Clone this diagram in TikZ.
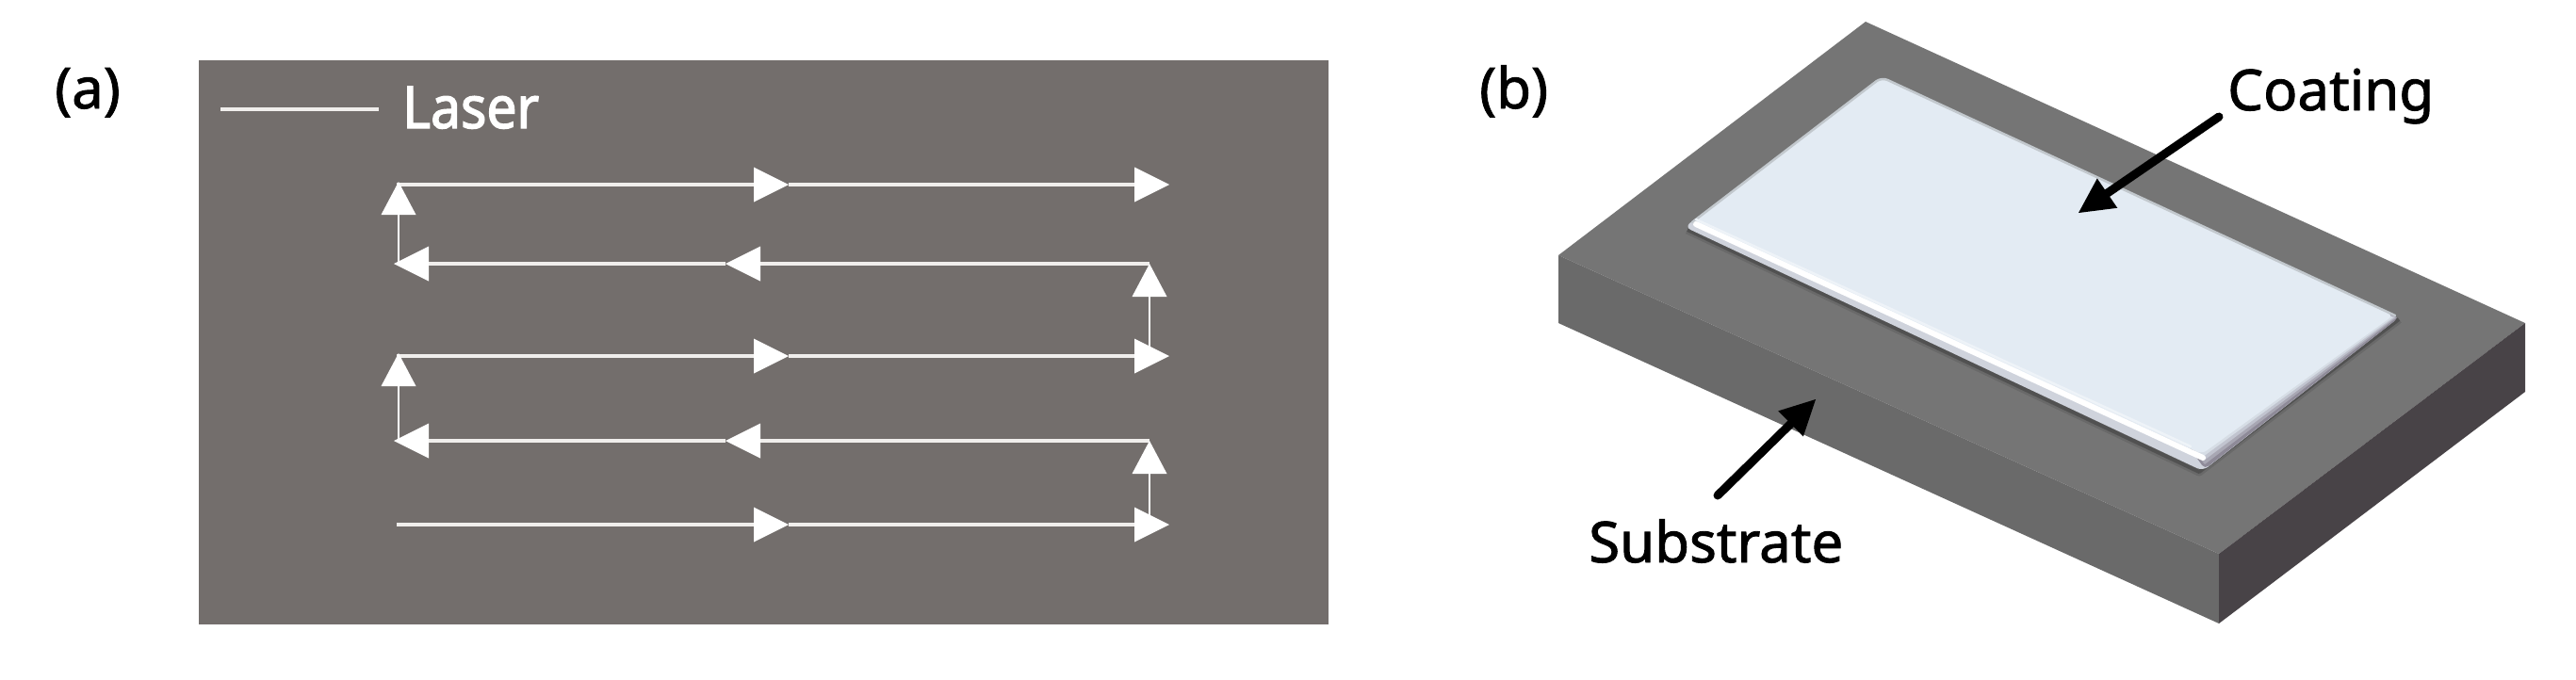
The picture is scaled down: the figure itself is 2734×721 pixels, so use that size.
\documentclass[tikz,border=0pt]{standalone}
\usepackage{fontspec}
\setmainfont{Noto Sans}
\newfontfamily\lblfont[FakeBold=1.5]{Noto Sans}
\newfontfamily\laserfont[FakeBold=2.2,FakeStretch=0.92]{Noto Sans}
\usetikzlibrary{arrows.meta,calc}
\definecolor{panelgrey}{HTML}{736E6C}
\definecolor{laserwhite}{HTML}{F0EEEC}
\definecolor{topface}{HTML}{757575}
\definecolor{frontface}{HTML}{6A6A6A}
\definecolor{sideface}{HTML}{484347}
\definecolor{coatingblue}{HTML}{E3EBF3}
\definecolor{bevelgrey}{HTML}{CFD3DC}
\definecolor{edgepurple}{HTML}{8E8A98}
\tikzset{
  lbl/.style={anchor=base west,inner sep=0pt,font=\lblfont\fontsize{60}{60}\selectfont,text=black},
  hbeam/.style={draw=laserwhite,line width=4pt,-{Triangle[length=37pt,width=37pt,line width=0pt,color=white,fill=white]}},
  vbeam/.style={draw=white,line width=2.5pt,-{Triangle[length=35pt,width=37pt,line width=0pt,color=white,fill=white]}},
  pointer/.style={draw=black,line width=9pt,line cap=round,-{Triangle[length=37pt,width=38pt,line width=0pt]}},
}
\begin{document}
\begin{tikzpicture}[x=1pt,y=-1pt]
\useasboundingbox (0,0) rectangle (2734,721);
% panel (a)
\fill[panelgrey] (211,64) rectangle (1410,663);
\node[lbl] (labela) at (58,115) {(a)};
\coordinate (legA) at (234,116);
\coordinate (legB) at (402,116);
\draw[draw=laserwhite,line width=3.5pt] (legA) -- (legB);
\node[lbl,text=white,font=\laserfont\fontsize{62}{62}\selectfont] (laser) at (427,136) {Laser};
% rows
\coordinate (r1a) at (421,196); \coordinate (r1m) at (837,196); \coordinate (r1b) at (1241,196);
\coordinate (r2a) at (1220,280); \coordinate (r2m) at (770,280); \coordinate (r2b) at (418,280);
\coordinate (r3a) at (421,378); \coordinate (r3m) at (837,378); \coordinate (r3b) at (1241,378);
\coordinate (r4a) at (1220,468); \coordinate (r4m) at (770,468); \coordinate (r4b) at (418,468);
\coordinate (r5a) at (421,557); \coordinate (r5m) at (837,557); \coordinate (r5b) at (1241,557);
\draw[hbeam] (r1a) -- (r1m); \draw[hbeam] (r1m) -- (r1b);
\draw[hbeam] (r2a) -- (r2m); \draw[hbeam] (r2m) -- (r2b);
\draw[hbeam] (r3a) -- (r3m); \draw[hbeam] (r3m) -- (r3b);
\draw[hbeam] (r4a) -- (r4m); \draw[hbeam] (r4m) -- (r4b);
\draw[hbeam] (r5a) -- (r5m); \draw[hbeam] (r5m) -- (r5b);
% vertical links
\coordinate (vl1a) at (423,280); \coordinate (vl1b) at (423,193);
\coordinate (vr1a) at (1220,378); \coordinate (vr1b) at (1220,280);
\coordinate (vl2a) at (423,468); \coordinate (vl2b) at (423,375);
\coordinate (vr2a) at (1220,557); \coordinate (vr2b) at (1220,468);
\draw[vbeam] (vl1a) -- (vl1b);
\draw[vbeam] (vr1a) -- (vr1b);
\draw[vbeam] (vl2a) -- (vl2b);
\draw[vbeam] (vr2a) -- (vr2b);
% panel (b): block
\node[lbl] (labelb) at (1570,115) {(b)};
\fill[topface] (1980,23) -- (2680,343) -- (2355,588) -- (1654,271) -- cycle;
\fill[frontface] (1654,271) -- (2355,588) -- (2355,662) -- (1654,343) -- cycle;
\fill[sideface] (2355,588) -- (2680,343) -- (2680,416) -- (2355,662) -- cycle;
% soft shadow round the coating
\draw[black,opacity=.10,line width=9pt,line join=round] (1791,244) -- (2334,501) -- (2546,339);
\draw[black,opacity=.22,line width=4pt,line join=round] (1791,244) -- (2334,501) -- (2546,339);
% coating: bevel, rim bands on the lower-right side, then top surface
\fill[bevelgrey,rounded corners=7pt] (1997,82) -- (2546,337) -- (2338,500) -- (1788,241) -- cycle;
\fill[edgepurple,rounded corners=5pt] (2546,337) -- (2340,498) -- (2320,470) -- (2500,320) -- cycle;
\fill[edgepurple!70!coatingblue] (2544,337) -- (2340,493) -- (2320,470) -- (2500,320) -- cycle;
\fill[edgepurple!40!coatingblue] (2542,337) -- (2339,489) -- (2320,470) -- (2500,320) -- cycle;
\fill[edgepurple!15!coatingblue] (2540,337) -- (2338,485) -- (2320,470) -- (2500,320) -- cycle;
\fill[coatingblue,rounded corners=6pt] (1997,83) -- (2540,335) -- (2337,482) -- (1798,235) -- cycle;
% soft upper edges of the surface
\draw[coatingblue!70!topface,line width=2.5pt,rounded corners=7pt,line cap=round] (1796,236) -- (1997,82) -- (2542,335);
% highlight along the bevel
\draw[white,line width=6pt,line cap=round] (1800,238) -- (2338,486);
\draw[coatingblue!60!white,line width=2.5pt,line cap=round] (1800,233) -- (2325,474);
% pointers and labels
\node[lbl] (coating) at (2364,117) {Coating};
\node[lbl] (substrate) at (1686,597) {Substrate};
\coordinate (coatTail) at (2355,124); \coordinate (coatTip) at (2206,226);
\coordinate (subTail) at (1823,526); \coordinate (subTip) at (1927,424);
\draw[pointer] (coatTail) -- (coatTip);
\draw[pointer] (subTail) -- (subTip);
\end{tikzpicture}
\end{document}
